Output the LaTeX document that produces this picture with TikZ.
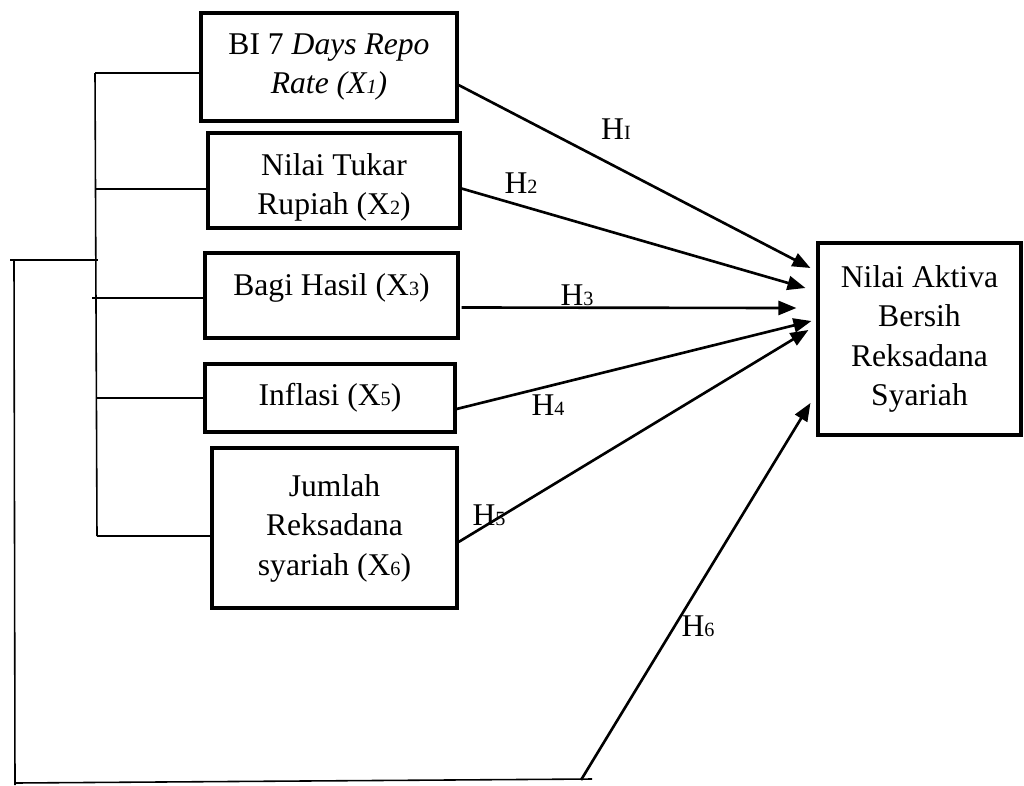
\documentclass[tikz,border=0pt]{standalone}
\usepackage{fontspec}
\setmainfont{Liberation Serif}
\usetikzlibrary{positioning,calc,arrows.meta}
\tikzset{font=\fontsize{18}{22.5}\selectfont}
\newcommand{\smallidx}[1]{{\fontsize{11.5}{12}\selectfont #1}}

\begin{document}
\begin{tikzpicture}
	\begin{scope}[x=0.02cm, y=-0.02cm]
		\useasboundingbox (0, 0) rectangle (1024, 785);
		\tikzstyle{every node}=[align=center, inner sep=1pt]
		\tikzstyle{var}=[draw, line width=1.8pt, inner sep=0pt]
		\tikzstyle{spine}=[line width=0.9pt]
		\tikzstyle{hyp}=[->, >={Triangle[length=0.36cm, width=0.28cm]}, line width=1.5pt]

		% independent variables
		\node [var, minimum width=5.12cm, minimum height=2.16cm] (bi) at (329, 67) {BI 7 \textit{Days Repo}\\\textit{Rate (X\smallidx{1})}};
		\node [var, minimum width=5.04cm, minimum height=1.9cm] (kurs) at (334, 180.5) {\rule{0pt}{0.72cm}Nilai Tukar\\Rupiah (X\smallidx{2})};
		\node [var, minimum width=5.06cm, minimum height=1.7cm, text height=0.45cm, text depth=0.45cm] (bagi) at (331.5, 295.5) {Bagi Hasil (X\smallidx{3})};
		\node [var, minimum width=5cm, minimum height=1.36cm] (infl) at (330, 398) {Inflasi (X\smallidx{5})};
		\node [var, minimum width=4.9cm, minimum height=3.2cm] (jml) at (334.5, 528) {Jumlah\\Reksadana\\syariah (X\smallidx{6})};

		% dependent variable
		\node [var, minimum width=4.06cm, minimum height=3.84cm] (nab) at (919.5, 339) {Nilai Aktiva\\Bersih\\Reksadana\\Syariah};

		% bracket
		\coordinate (j1) at (95, 73);
		\coordinate (j2) at (96, 189);
		\coordinate (j3) at (92, 298);
		\coordinate (j4) at (96, 398);
		\coordinate (j5) at (97, 536);
		\draw [spine] (j1) to (j5);
		\draw [spine] (j1) to (bi.west |- j1);
		\draw [spine] (j2) to (kurs.west |- j2);
		\draw [spine] (j3) to (bagi.west |- j3);
		\draw [spine] (j4) to (infl.west |- j4);
		\draw [spine] (j5) to (jml.west |- j5);

		\coordinate (o1) at (10, 260);
		\coordinate (o2) at (98, 260);
		\coordinate (o3) at (14, 260);
		\coordinate (o4) at (15, 785);
		\coordinate (b1) at (15, 783);
		\coordinate (b2) at (592, 779);
		\coordinate (h6s) at (581, 780);
		\draw [spine] (o1) to (o2);
		\draw [spine] (o3) to (o4);
		\draw [spine] (b1) to (b2);

		% hypotheses
		\draw [hyp] ([shift={(0, 18)}]bi.east) to ([shift={(-6, -71)}]nab.west);
		\draw [hyp] ([shift={(0, 8)}]kurs.east) to ([shift={(-11, -51)}]nab.west);
		\draw [hyp] ([shift={(2, 12)}]bagi.east) to ([shift={(-20, -31)}]nab.west);
		\draw [hyp] ([shift={(0, 11)}]infl.east) to ([shift={(-5, -18)}]nab.west);
		\draw [hyp] ([shift={(0, 14)}]jml.east) to ([shift={(-8, -9)}]nab.west);
		\draw [hyp] (h6s) to ([shift={(-6, 64)}]nab.west);

		\node (lh1) at (616, 129) {H\smallidx{I}};
		\node (lh2) at (521, 183) {H\smallidx{2}};
		\node (lh3) at (577, 295) {H\smallidx{3}};
		\node (lh4) at (548, 405) {H\smallidx{4}};
		\node (lh5) at (489, 515) {H\smallidx{5}};
		\node (lh6) at (698, 626) {H\smallidx{6}};
	\end{scope}
\end{tikzpicture}
\end{document}
